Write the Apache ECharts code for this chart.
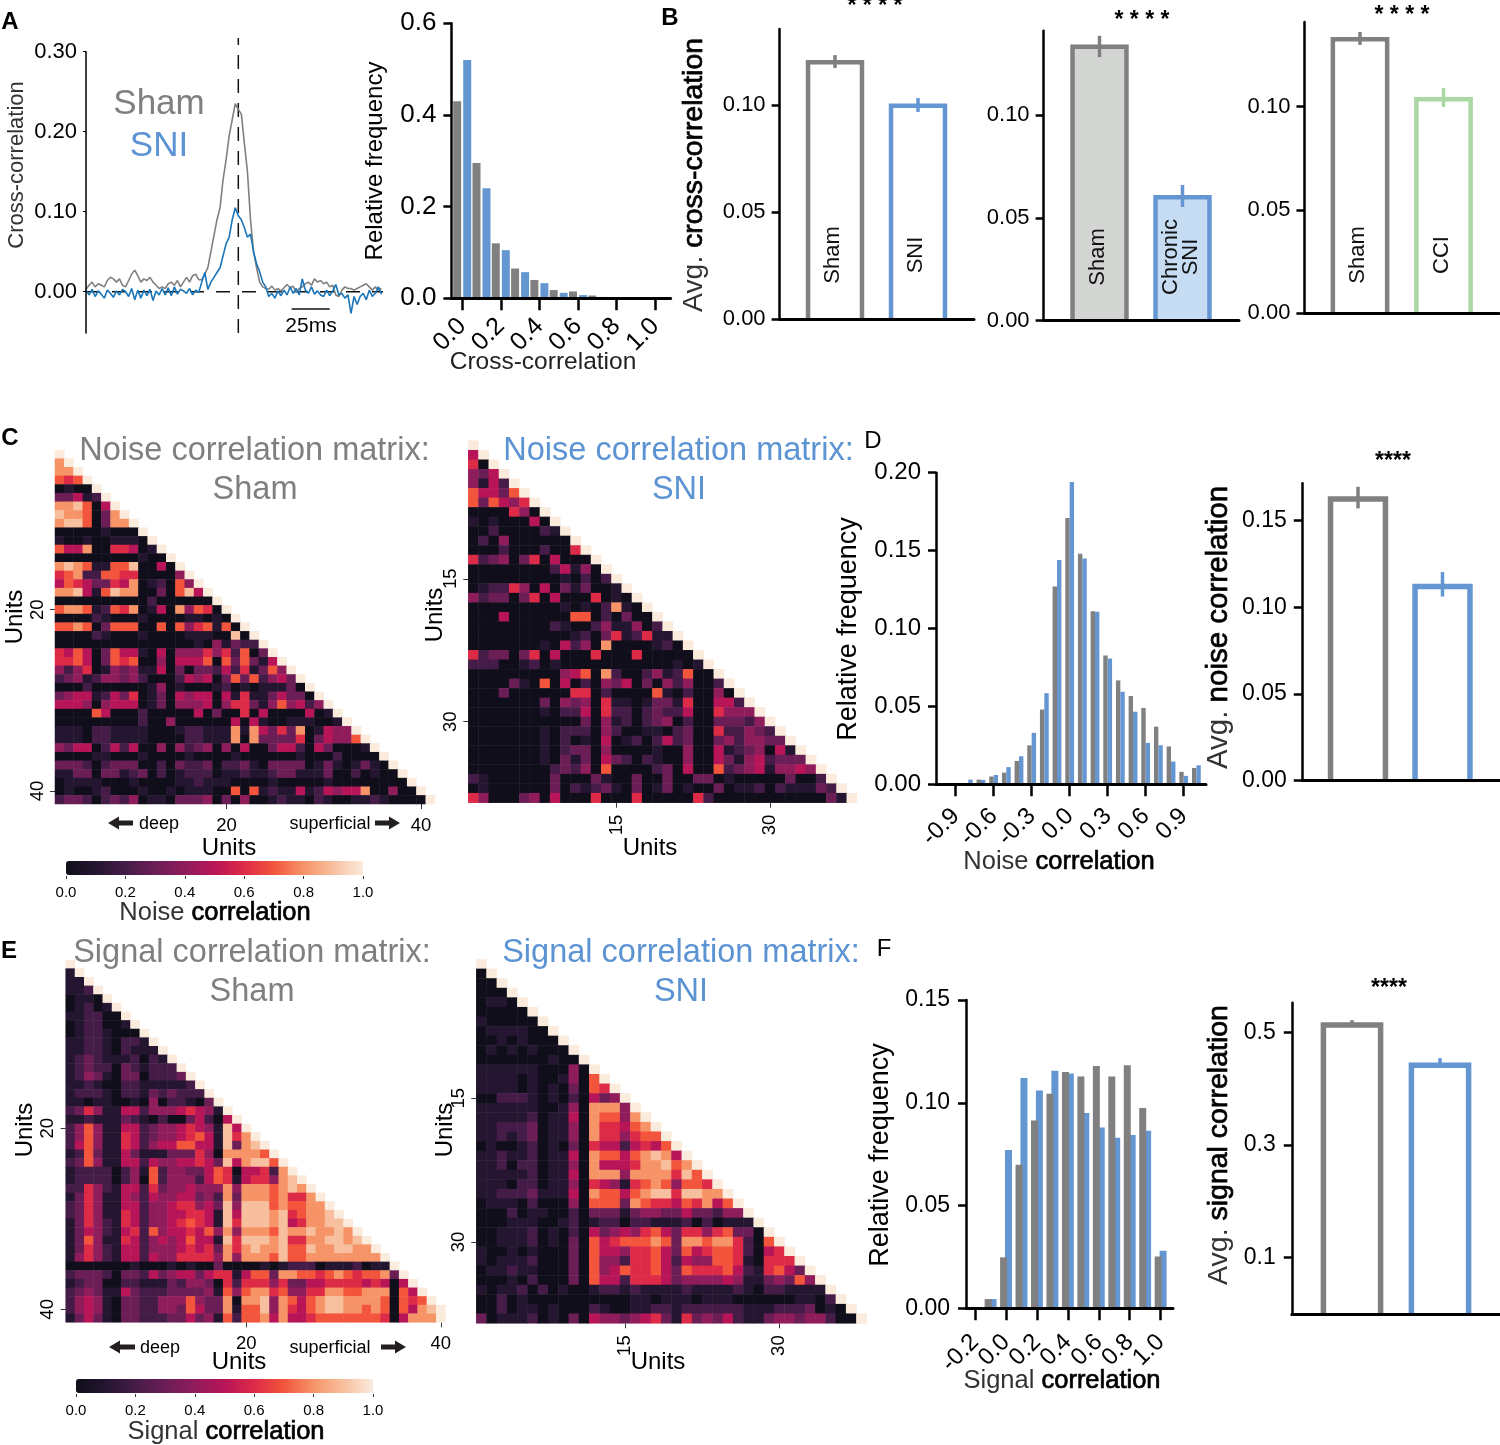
<!DOCTYPE html>
<html><head><meta charset="utf-8"><title>Correlation figure</title>
<script src="https://cdn.jsdelivr.net/npm/echarts@6/dist/echarts.min.js"></script>
<style>html,body{margin:0;padding:0;background:#fff}#c{width:1500px;height:1445px}</style></head>
<body><div id="c"></div>
<script>
// ---------- Panel A traces (one reading every 2 ms, lag -100..94 ms)
const shamTrace=[.003,.008,.012,.006,.01,.008,.006,.014,.018,.016,.012,.016,.008,.006,.014,.022,.027,.02,.012,.016,.014,.018,.012,.008,.004,.006,.004,.01,.012,.008,.014,.006,.012,.018,.012,.02,.022,.015,.015,.022,.03,.05,.07,.09,.105,.14,.165,.195,.215,.235,.228,.222,.185,.15,.09,.05,.03,.012,.006,.004,.003,.007,.002,.004,.001,.005,.009,.005,.007,-.001,.004,.006,.01,.012,.008,.016,.012,.014,.01,.012,.006,.008,-.004,-.006,.002,.006,.004,.004,.002,.004,.006,.008,.01,.006,.002,.006,.002,.004];
const sniTrace=[.002,-.004,.003,-.006,.001,-.003,-.008,.002,-.002,-.007,.001,-.004,.003,0,-.006,.004,-.01,.002,-.008,.002,-.005,.003,-.011,.001,-.004,.004,-.004,.005,-.005,.006,-.003,.003,.001,-.002,.004,-.004,.002,-.001,.012,.024,.003,.012,.018,.024,.03,.045,.06,.068,.09,.105,.095,.09,.08,.068,.072,.05,.035,.025,.012,.006,-.006,-.002,-.008,.001,-.005,.002,-.004,.006,-.002,.004,-.004,.016,.002,-.002,.006,-.003,.001,-.004,-.006,.002,-.005,.001,.009,-.004,-.002,-.008,-.004,-.027,-.006,-.016,-.006,-.002,-.01,.002,-.006,-.002,.006,-.003];
// ---------- Panel A histogram
const ccBins=[0,.1,.2,.3,.4,.5,.6,.7,.8,.9,1];
const ccHistSham=[.43,.295,.12,.065,.04,.018,.015,.006,.002,.001,0];
const ccHistSni=[.52,.24,.105,.057,.033,.012,.007,.003,.002,0,0];
// ---------- Panel B bars
const b1Names=['Sham','SNI'],b1Mean=[.12,.0997],b1Low=[.1173,.0968],b1High=[.1233,.1033];
const b2Names=['Sham','Chronic\nSNI'],b2Mean=[.1332,.06],b2Low=[.1282,.0553],b2High=[.1385,.066];
const b3Names=['Sham','CCI'],b3Mean=[.1326,.1036],b3Low=[.1299,.0999],b3High=[.1362,.1091];
// ---------- Panel D
const noiseBins=[-.8,-.7,-.6,-.5,-.4,-.3,-.2,-.1,0,.1,.2,.3,.4,.5,.6,.7,.8,.9,1];
const noiseHistSham=[0,.003,.005,.0075,.015,.025,.048,.127,.171,.148,.111,.0826,.0667,.0567,.049,.037,.0243,.008,.0105];
const noiseHistSni=[.003,.0028,.006,.011,.018,.033,.0585,.144,.194,.145,.1107,.0807,.0594,.0466,.0266,.0251,.0146,.0054,.0122];
const noiseMean=[.1625,.112],noiseLow=[.157,.1062],noiseHigh=[.1695,.1203];
// ---------- Panel F
const signalBins=[-.1,0,.1,.2,.3,.4,.5,.6,.7,.8,.9,1];
const signalHistSham=[.0045,.0248,.0698,.0914,.1044,.115,.1128,.1179,.1128,.1182,.0974,.0252];
const signalHistSni=[.0045,.077,.112,.106,.1156,.1143,.095,.088,.083,.0843,.0864,.028];
const signalMean=[.5133,.442],signalLow=[.51,.437],signalHigh=[.522,.4545];
// ---------- Matrices: one string per row, digit = tenths, a = 1.0 (spaces only for reading)
const noiseSham=["a","8a","88a","767a","0100a","33512a","889705a","9887038a","89970388a","000001000a","1001001110a","75580066501a","000000000100a","8987117790050a","67822776600004a","576533658012074a","8895179880030795a","0000000000 2000000a","7887127680 15084760a","0000210001 000011010a","7787037770 0707467170a","0000210001 00001110090a","0000000000 000001041322a","6575037551 0504446462703a","6675037670 04055570737315a","4246014341 150303325261374a","2341244342 0002545037372453a","0002000000 14010001201011130a","3455125360 130545505161135330a","5554045550 1304445046631474524a","0000750002 00000503006050000501a","0000000002 0040000005 0510011100 1a","1110221111 0001221118 1853638015 44a","1110221111 0000221118 0833336035 447a","4355025250 0404234040 5003552053 0001a","0000110001 0000100001 0000001000 20000a","3332023330 0203223022 3103333013 101310a","1133033123 0201222011 2112331113 0020100a","0111100010 0001121110 0001000001 00000000a","0100120001 0010111007 0712115125 455800400a","2332023240 1103334030 4001211021 0011210000a"];
const noiseSni=["a","5a","60a","435a","4152a","75537a","737546a","0000640a","10100050a","002000021a","0204000000a","00020002006a","623403605000a","0000000025140a","00000000010202a","012264050313001a","4233036050006010a","000000000 10102810a","0005000000 77020300a","0000000021 002411402a","0000000000 1203612611a","0000000105 24080000120a","6233036050 006000600000a","2220012010 0000000000 101a","0000000004 5708200241 2700a","0000310705 0204350304 24002a","0003000000 6602000071 020040a","0000000304 3406110133 1600552a","0000000102 2506220232 25006444a","0000000000 0304120234 020033324a","0000000102 2204200110 2300622432a","0000000102 0105012025 23003424433a","0000000102 3304000010 040051234051a","0000000103 1305320210 0400531452333a","0000000023 2407000023 05007234514454a","2100000030 0031003003 0033010000 03002a","0100000030 2123103013 0100301120 211132a","6400034050 0060006000 0062000000 0000031a"];
const signalSham=["a","1a","11a","112a","0110a","01201a","112200a","0122001a","01221000a","112210221a","1122102111a","12321112021a","123220321222a","1243103302223a","11210022111112a","122210221323222a","1101100104 022103a","2364115524 4456541a","1121113210 20035205a","2474115523 445654195a","2474116523 4456751968a","2574116524 55775519389a","1273115311 133364088887a","2374115525 4455653958997a","1222202417 24433576055628a","1222202407 244425761566489a","2264215526 3445444848887898a","1364115425 44553428388878668a","2364115524 456645394999787788a","2364116524 4556651959998967889a","1364216524 45676519699989568899a","1354215627 455657484888798898898a","1374116524 5457551969998966889989a","1364215524 44565638689889779889988a","1464215525 446666484888797788888888a","0000000100 0101003000 0101222011 12011a","2333203325 3455356615 7738877678 767783a","1233002211 1324430626 6646335566 6656505a","2343115322 2333341747 8867446688 77888075a","2454103322 4447433808 8948757899 888870767a","2454103322 4437533817 7948657899 8878707589a","1353103322 2335341727 7858556777 7777605888a"];
const signalSni=["a","0a","00a","000a","0110a","00000a","100000a","0111100a","00101000a","010101000a","0000000100a","11111100040a","111101001407a","1111010103 076a","0022210102 0534a","1111110014 08884a","1111120115 087748a","1122230114 0866578a","1121230114 08664677a","0100120103 065525657a","1121120115 0877578985a","1120220114 08555688978a","1111120115 0888488886 97a","1110220114 0654167874 776a","1122231115 0877578996 9988a","0111020004 0777387665 76857a","0002011002 0333134433 533244a","0001110012 0122022111 2020111a","0011120102 0534546753 66467330a","0011120103 0756777873 887886207a","1001010003 0755466753 7567762056a","1011120003 0744266752 54477610666a","0112110003 0745766753 766675216753a","0001020003 0755266653 4444541134374a","1011202010 0122121111 2111121022 1111a","0020100000 0000011011 1011100000 01102a","0020110100 0210011221 2222221112 223010a","3011120103 0544345631 6343521134 4344200a"];
// ---------- Ticks
const pctTicks=[0,.2,.4,.6,.8,1];

const FF='"Liberation Sans",Arial,sans-serif';
const GRAY='#808080',BLUE='#6496d2',TITLEBLUE='#5b93d3',GREEN='#a9d8a3';
const ROCKET=['#100e1a','#241530','#451c47','#6b1e56','#8f1c5b','#b81558','#dd2a47','#f2553c','#f69468','#f7bf9d','#faebdd'];
const grids=[],xAxes=[],yAxes=[],series=[];
function addGrid(l,t,r,b,x,y){const i=grids.length;grids.push({left:l,top:t,width:r-l,height:b-t,containLabel:false});
  xAxes.push(Object.assign({gridIndex:i},x));yAxes.push(Object.assign({gridIndex:i},y));return i;}
const ink=w=>({show:true,onZero:false,lineStyle:{color:'#000',width:w||2.5}});
function valueY(min,max,ticks,dec,size,margin){return {type:'value',min,max,splitLine:{show:false},axisLine:ink(2.5),z:5,
  axisTick:{show:true,length:8,lineStyle:{color:'#000',width:2.5},customValues:ticks},
  axisLabel:{show:true,customValues:ticks,showMinLabel:true,showMaxLabel:true,formatter:v=>v.toFixed(dec),fontFamily:FF,fontSize:size||22,color:'#000',margin:margin||14}};}
function histX(min,max,ticks,size,margin){
  // blank guard entries at both ends keep the library from dropping crowded end labels
  const guarded=[min,...ticks,max];
  return {type:'value',min,max,splitLine:{show:false},axisLine:ink(3),z:5,
  axisTick:{show:true,length:12,lineStyle:{color:'#000',width:2.5},customValues:ticks},
  axisLabel:{show:true,rotate:45,customValues:guarded,showMinLabel:true,showMaxLabel:true,hideOverlap:false,lineHeight:16,formatter:v=>(v===min||v===max)?'':v.toFixed(1),fontFamily:FF,fontSize:size||22,color:'#000',margin:margin||24}};}
function addHist(g,bins,sham,sni,w,gap,shamOnTop){
  series.push({type:'bar',xAxisIndex:g,yAxisIndex:g,data:bins.map((b,i)=>[b,sham[i]]),barWidth:w,barGap:gap,itemStyle:{color:GRAY},z:shamOnTop?3:2});
  series.push({type:'bar',xAxisIndex:g,yAxisIndex:g,data:bins.map((b,i)=>[b,sni[i]]),barWidth:w,barGap:gap,itemStyle:{color:BLUE},z:2});
}
function addBars(l,t,r,b,yMax,ticks,dec,c0,step,half,names,mean,low,high,cols,fills,labY,sw,opts){
  const x0=(l-c0)/step,x1=(r-c0)/step;
  const g=addGrid(l,t,r,b,{type:'value',min:x0,max:x1,z:5,splitLine:{show:false},axisTick:{show:false},axisLabel:{show:false},axisLine:ink(3)},
    valueY(0,yMax,ticks,dec,(opts&&opts.size)||22,(opts&&opts.margin)||14));
  series.push({type:'custom',xAxisIndex:g,yAxisIndex:g,clip:false,z:2,silent:true,encode:{x:0,y:[1,2,3]},
    data:mean.map((m,i)=>[i,m,low[i],high[i]]),
    renderItem:(p,api)=>{const i=api.value(0),m=api.value(1),lo=api.value(2),hi=api.value(3);
      const a=api.coord([i-half,0]),c=api.coord([i+half,m]),e0=api.coord([i,lo]),e1=api.coord([i,hi]);
      const kids=[{type:'rect',shape:{x:a[0],y:c[1],width:c[0]-a[0],height:a[1]-c[1]},style:{fill:fills[i]}},
        {type:'polyline',shape:{points:[[a[0],a[1]],[a[0],c[1]],[c[0],c[1]],[c[0],a[1]]]},style:{fill:null,stroke:cols[i],lineWidth:sw,lineJoin:'miter'}},
        {type:'line',shape:{x1:e0[0],y1:e0[1],x2:e1[0],y2:e1[1]},style:{stroke:cols[i],lineWidth:3.5}}];
      if(names){kids.push({type:'text',x:(a[0]+c[0])/2-2,y:labY,rotation:Math.PI/2,style:{text:names[i],font:'22px '+FF,fill:'#111',align:'center',verticalAlign:'middle',lineHeight:20}});}
      return {type:'group',children:kids};}});
}
function parseRows(rows){const out=[];rows.forEach((s,r)=>{const t=s.replace(/\s/g,'');for(let j=0;j<t.length;j++){out.push([j,r,t[j]==='a'?1:+t[j]/10]);}});return out;}
function addMatrix(l,t,r,b,n,rows,xt,yt){
  const idx=Array.from({length:n},(_,i)=>i);
  const mk=(map,rot,mg)=>({type:'category',data:idx,splitLine:{show:false},axisLine:{show:false},
    axisTick:{show:true,length:5,alignWithLabel:true,lineStyle:{color:'#333',width:1},interval:i=>map[i]!==undefined},
    axisLabel:{show:true,interval:i=>map[i]!==undefined,formatter:(v)=>map[v]||'',rotate:rot,fontFamily:FF,fontSize:18.5,color:'#000',margin:mg}});
  const g=addGrid(l,t,r,b,mk(xt,xt.rot||0,12),Object.assign(mk(yt,90,8),{inverse:true}));
  series.push({type:'heatmap',xAxisIndex:g,yAxisIndex:g,data:parseRows(rows),progressive:0,animation:false,silent:true});
  return series.length-1;
}
// Panel A line
const gA=addGrid(86,51.7,383,333,{type:'value',min:-100,max:95,show:false},valueY(-.0516,.3,[0,.1,.2,.3],2,22,9));
yAxes[gA].axisLine.lineStyle.width=1.5;yAxes[gA].axisTick.length=3;yAxes[gA].axisTick.lineStyle.width=1;
const lineS=(d,c,w,extra)=>Object.assign({type:'line',xAxisIndex:gA,yAxisIndex:gA,data:d,showSymbol:false,symbol:'none',clip:false,lineStyle:{color:c,width:w}},extra||{});
const lagAt=i=>-100+2*i;
series.push(lineS([[-100,0],[95,0]],'#111',1.5,{lineStyle:{color:'#111',width:1.5,type:[14,12]},z:1}));
series.push(lineS([[0,-.0516],[0,.317]],'#111',1.5,{lineStyle:{color:'#111',width:1.5,type:[14,10]},z:1}));
series.push(lineS(shamTrace.map((v,i)=>[lagAt(i),v]),'#808080',1.6));
series.push(lineS(sniTrace.map((v,i)=>[lagAt(i),v]),'#1a76b8',1.6));
series.push(lineS([[35,-.0216],[60,-.0216]],'#111',1.5));
// Panel A histogram
const gAh=addGrid(451.4,23.3,670.6,298.3,histX(-.056,1.08,pctTicks,25,24),valueY(0,.6,[0,.2,.4,.6],1,26,15));
addHist(gAh,ccBins,ccHistSham,ccHistSni,8,'25%');
// Panel B
addBars(779.6,29,974,319.3,.1355,[0,.05,.1],2,835,83,.325,b1Names,b1Mean,b1Low,b1High,[GRAY,BLUE],['#fff','#fff'],255,4.5);
addBars(1043.6,30.7,1239,320.7,.141,[0,.05,.1],2,1099.5,83,.325,b2Names,b2Mean,b2Low,b2High,[GRAY,BLUE],['#d3d5d3','#c6dcf3'],257,4.5);
addBars(1304.4,22,1499,313.3,.141,[0,.05,.1],2,1360,83.5,.325,b3Names,b3Mean,b3Low,b3High,[GRAY,GREEN],['#fff','#fff'],255,4.5);
// Panel C matrices
const s1=addMatrix(55,450,435,804,41,noiseSham,{18:'20',39:'40'},{18:'20',39:'40'});
const s2=addMatrix(468.3,440.7,857,802.7,38,noiseSni,{14:'15',29:'30',rot:90},{14:'15',29:'30'});
// Panel D
const gDh=addGrid(936,472.7,1206,784.3,histX(-1.055,1.076,[-.9,-.6,-.3,0,.3,.6,.9],24,28),valueY(0,.2,[0,.05,.1,.15,.2],2,24,15));
addHist(gDh,noiseBins,noiseHistSham,noiseHistSni,4.4,'0%');
addBars(1301.8,483.3,1500,780.7,.1715,[0,.05,.1,.15],2,1358,84.5,.325,null,noiseMean,noiseLow,noiseHigh,[GRAY,BLUE],['#fff','#fff'],0,5.5,{size:23,margin:15});
// Panel E matrices
const s3=addMatrix(65.7,960,454.7,1322.3,42,signalSham,{19:'20',40:'40'},{19:'20',40:'40'});
const s4=addMatrix(476.3,959.3,866.7,1323.3,38,signalSni,{14:'15',29:'30',rot:90},{14:'15',29:'30'});
// Panel F
const gFh=addGrid(966,1000,1173,1308.3,histX(-.259,1.08,[-.2,0,.2,.4,.6,.8,1],24,30),valueY(0,.15,[0,.05,.1,.15],2,23,16));
addHist(gFh,signalBins,signalHistSham,signalHistSni,7,'-30%',true);
addBars(1291.8,1002.7,1500,1314,.553,[.1,.3,.5],1,1352,88,.325,null,signalMean,signalLow,signalHigh,[GRAY,BLUE],['#fff','#fff'],0,5.5,{size:23,margin:16});
// Colourbar tick axes
function colorbarAxis(l,t){return addGrid(l,t,l+297,t+1,{type:'value',min:0,max:1,splitLine:{show:false},axisLine:{show:false},
  axisTick:{show:true,length:3,lineStyle:{color:'#333',width:1},customValues:pctTicks},
  axisLabel:{show:true,customValues:pctTicks,showMinLabel:true,showMaxLabel:true,formatter:v=>v.toFixed(1),fontFamily:FF,fontSize:15,color:'#000',margin:9}},
  {type:'value',min:0,max:1,show:false});}
colorbarAxis(66,875);colorbarAxis(76,1393);

const vm=(seriesIndex,left,top)=>({type:'continuous',min:0,max:1,dimension:2,seriesIndex,orient:'horizontal',left,top,itemWidth:14,itemHeight:297,padding:0,
  calculable:false,showLabel:false,text:null,inRange:{color:ROCKET},hoverLink:false});

// Texts
const T=(text,x,y,size,fill,rot,extra)=>Object.assign({type:'text',x,y:rot?y:y+1.5,rotation:(rot||0)*Math.PI/180,silent:true,z:20,
  style:Object.assign({text,font:size+'px '+FF,fill:fill||'#000',align:'center',verticalAlign:'middle'},extra||{})});
const rich=size=>({rich:{a:{font:size+'px '+FF,fill:'#333'},b:{font:size+'px '+FF,fill:'#000',stroke:'#000',lineWidth:.7}}});
const mix=(a,b,x,y,size,rot)=>T('{a|'+a+'} {b|'+b+'}',x,y,size,'#000',rot,rich(size));
const BOLD=(t,x,y,s)=>T(t,x,y,s,'#000',0,{font:'bold '+s+'px '+FF});
function arrow(x0,x1,y){const d=x1>x0?1:-1,head=x1-d*11;return {type:'polygon',silent:true,z:20,shape:{points:[[x0,y-2.5],[head,y-2.5],[head,y-6.5],[x1,y],[head,y+6.5],[head,y+2.5],[x0,y+2.5]]},style:{fill:'#231f20'}};}
const gfx=[
 BOLD('A',10,21,24),BOLD('B',670,17,24),BOLD('C',10,437,24),T('D',873,440,24),BOLD('E',9,950,24),T('F',884,948,24),
 T('Cross-correlation',17,165,22,'#333',90),T('Sham',159,103,35,GRAY),T('SNI',159,145,35,TITLEBLUE),T('25ms',311,325,21),
 T('Relative frequency',375,161,24,'#000',90),T('Cross-correlation',543,361,24.5,'#222'),
 mix('Avg.','cross-correlation',694,175,28.4,90),
 T('* * * *',875,5,23,'#000',0,{font:'bold 23px '+FF}),T('* * * *',1142,19,23,'#000',0,{font:'bold 23px '+FF}),T('* * * *',1402,14,23,'#000',0,{font:'bold 23px '+FF}),
 T('Noise correlation matrix:',254.5,450,32.5,'#7f7f7f'),T('Sham',255,489,32.5,'#7f7f7f'),
 T('Noise correlation matrix:',678.5,450,32.5,TITLEBLUE),T('SNI',679,489,32.5,TITLEBLUE),
 T('Units',15,617,24,'#000',90),T('Units',435,615,24,'#000',90),T('Units',229,847,24),T('Units',650,847,24),
 T('deep',159,823,18),T('superficial',330,823,18),arrow(133,108,823),arrow(375,400,823),
 mix('Noise','correlation',215,911,25.5,0),
 T('Relative frequency',849,629,27,'#000',90),mix('Noise','correlation',1059,860.5,25.5,0),
 T('****',1393,460,23,'#000',0,{font:'bold 23px '+FF}),mix('Avg.','noise correlation',1219,627.5,29.5,90),
 T('Signal correlation matrix:',252,952,32.5,'#7f7f7f'),T('Sham',252,991,32.5,'#7f7f7f'),
 T('Signal correlation matrix:',681,952,32.5,TITLEBLUE),T('SNI',681,991,32.5,TITLEBLUE),
 T('Units',25,1130,24,'#000',90),T('Units',445,1130,24,'#000',90),T('Units',239,1361,24),T('Units',658,1361,24),
 T('deep',160,1347,18),T('superficial',330,1347,18),arrow(135,109,1347),arrow(381,406,1347),
 mix('Signal','correlation',226,1430,25.5,0),
 T('Relative frequency',881,1155,27,'#000',90),mix('Signal','correlation',1062,1379,25.5,0),
 T('****',1389,987,23,'#000',0,{font:'bold 23px '+FF}),mix('Avg.','signal correlation',1219,1145,28.5,90)
];
const chart=echarts.init(document.getElementById('c'),null,{renderer:'canvas'});
chart.setOption({animation:false,backgroundColor:'#fff',textStyle:{fontFamily:FF},tooltip:{show:false},
  grid:grids,xAxis:xAxes,yAxis:yAxes,series,
  visualMap:[vm([s1,s2],66,861),vm([s3,s4],76,1379)],graphic:{elements:gfx}});
</script></body></html>
